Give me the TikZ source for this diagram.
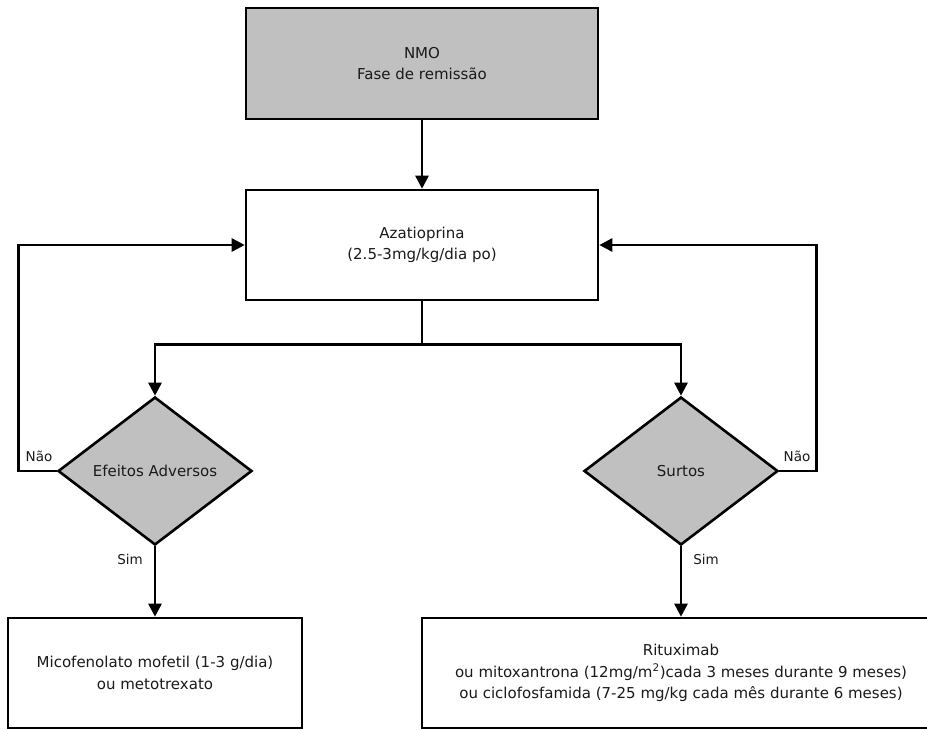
\documentclass[tikz,border=0pt]{standalone}
\usepackage{fontspec}
\setmainfont{DejaVu Sans}
\usetikzlibrary{shapes.geometric,arrows.meta}
\definecolor{boxgray}{HTML}{C0C0C0}
\definecolor{txt}{HTML}{1A1A1A}
\begin{document}
\begin{tikzpicture}[x=1pt,y=-1pt,
  font=\fontsize{15}{21.5}\selectfont, text=txt,
  box/.style={draw=black, line width=2.6pt, rectangle, align=center, inner sep=0pt},
  dec/.style={draw=black, line width=2.6pt, diamond, fill=boxgray, inner sep=0pt, minimum width=194pt, minimum height=148pt},
  conn/.style={line width=2.6pt, draw=black},
  arr/.style={conn, -{Triangle[length=13pt,width=13pt]}},
  lbl/.style={font=\fontsize{13.5}{16}\selectfont, inner sep=0pt}]
\clip (0,0) rectangle (927,729);
\fill[white] (0,0) rectangle (927,729);
\node[box, fill=boxgray, minimum width=352pt, minimum height=111pt] (nmo) at (422,63.5) {NMO\\Fase de remissão};
\node[box, fill=white, minimum width=352pt, minimum height=110pt] (aza) at (422,245) {Azatioprina\\(2.5-3mg/kg/dia po)};
\node[dec] (ae) at (155,471) {Efeitos Adversos};
\node[dec] (su) at (681,471) {Surtos};
\node[box, fill=white, minimum width=294pt, minimum height=110pt] (mico) at (155,673) {Micofenolato mofetil (1-3 g/dia)\\ou metotrexato};
\node[box, fill=white, minimum width=518pt, minimum height=110pt] (rit) at (681,673) {Rituximab\\ou mitoxantrona (12mg/m\textsuperscript{2})cada 3 meses durante 9 meses)\\ou ciclofosfamida (7-25 mg/kg cada mês durante 6 meses)};
\draw[arr] (nmo.south) -- (aza.north);
\draw[conn] (aza.south) -- ++(0,43) coordinate (j);
\draw[arr] (j) -| (ae.north);
\draw[arr] (j) -| (su.north);
\draw[arr] (ae.west) -- ++(-38,0) coordinate (lc) |- (aza.west);
\draw[arr] (su.east) -- ++(37,0) coordinate (rc) |- (aza.east);
\draw[arr] (ae.south) -- (mico.north);
\draw[arr] (su.south) -- (rit.north);
\node[lbl] (nl) at (39,456) {Não};
\node[lbl] (nr) at (797,456) {Não};
\node[lbl] (sl) at (130,559) {Sim};
\node[lbl] (sr) at (706,559) {Sim};
\end{tikzpicture}
\end{document}
